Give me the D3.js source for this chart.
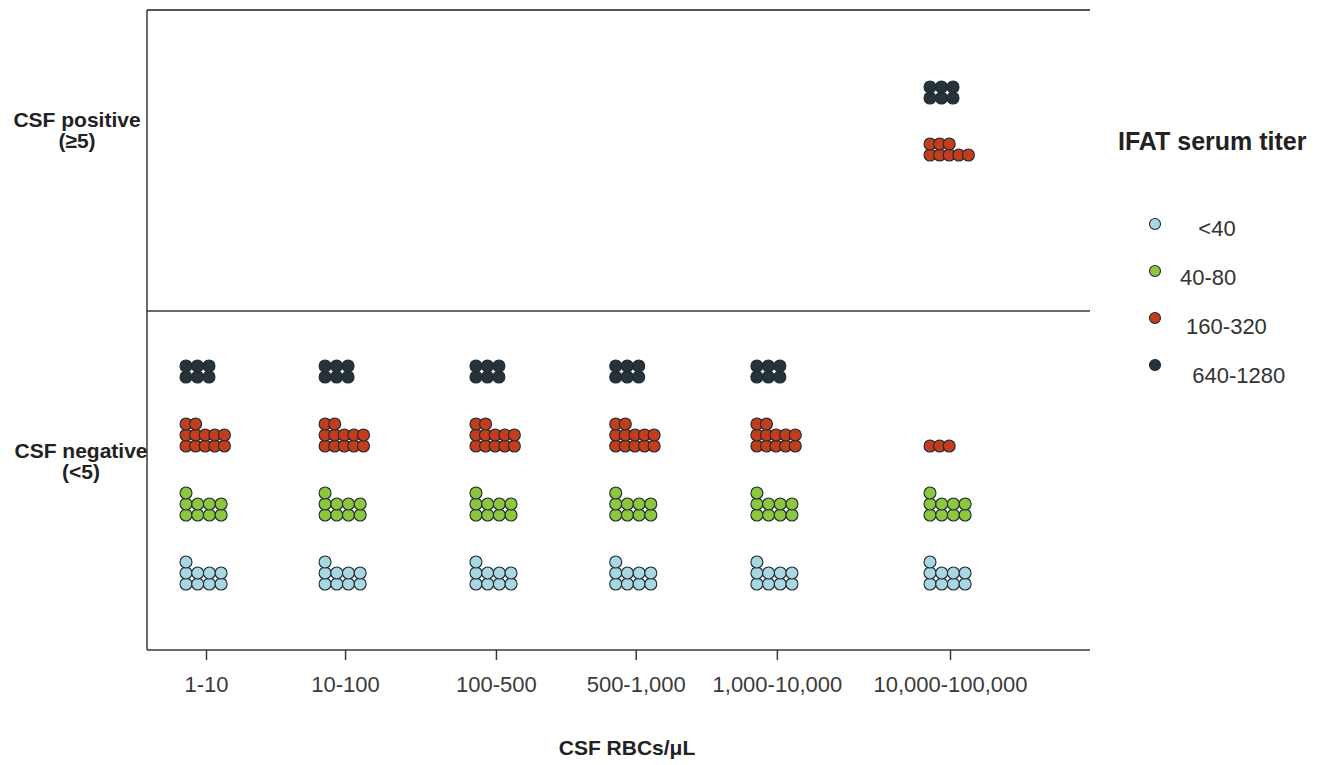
<!DOCTYPE html>
<html>
<head>
<meta charset="utf-8">
<script src="https://cdn.jsdelivr.net/npm/d3@7"></script>
<style>
  html, body { margin: 0; padding: 0; background: #fff; }
  svg { display: block; font-family: "Liberation Sans", Arial, sans-serif; }
</style>
</head>
<body>
<svg id="chart" width="1325" height="765"></svg>
<script>
// ---------- data ----------
const categories = ["1-10", "10-100", "100-500", "500-1,000", "1,000-10,000", "10,000-100,000"];
const titers = ["<40", "40-80", "160-320", "640-1280"];
const legendLabels = ["   <40", "40-80", " 160-320", "  640-1280"];
const statusLabels = [["CSF positive", "(\u22655)"], ["CSF negative", "(<5)"]];
const xTitle = "CSF RBCs/\u03bcL";
const legendTitle = "IFAT serum titer";

// counts of dogs per RBC category, CSF negative
const negLt40   = [9, 9, 9, 9, 9, 9];
const neg40_80  = [9, 9, 9, 9, 9, 9];
const neg160_320 = [12, 12, 12, 12, 12, 3];
const neg640_1280 = [6, 6, 6, 6, 6, 0];
// counts of dogs per RBC category, CSF positive
const posLt40   = [0, 0, 0, 0, 0, 0];
const pos40_80  = [0, 0, 0, 0, 0, 0];
const pos160_320 = [0, 0, 0, 0, 0, 8];
const pos640_1280 = [0, 0, 0, 0, 0, 6];

// ---------- layout / style ----------
const colors = ["#a9d6e3", "#8dc63f", "#c23d1d", "#27323a"];
const rowWidth = [4, 4, 5, 3];            // dots per row for each titer group
const colStep = [11.7, 11.7, 9.6, 11.5];  // horizontal dot spacing per titer group
const frame = { left: 147, right: 1090, top: 10, mid: 311, bottom: 650 };
const xSlots = [0, 1, 2.085, 3.09, 4.105, 5.35];
const dotR = 6, rowStep = 11;

const svg = d3.select("#chart");

const xSlot = d3.scaleLinear().domain([0, 5.35]).range([206, 950]);
const x = d3.scaleOrdinal().domain(categories).range(xSlots.map(s => xSlot(s)));

const yNeg = d3.scalePoint().domain(titers).range([frame.bottom - 66, frame.mid + 66]);
const yPos = d3.scalePoint().domain(titers).range([frame.mid - 42, frame.top + 88]);

const color = d3.scaleOrdinal().domain(titers).range(colors);

// ---------- frame ----------
const g = svg.append("g");
const lineColor = "#3a3a3a";
[frame.top, frame.mid, frame.bottom].forEach((yy, i) => {
  g.append("line")
    .attr("x1", frame.left).attr("x2", frame.right)
    .attr("y1", yy).attr("y2", yy)
    .attr("stroke", i === 0 ? "#555" : lineColor)
    .attr("stroke-width", i === 0 ? 2 : 1.5);
});
g.append("line")
  .attr("x1", frame.left).attr("x2", frame.left)
  .attr("y1", frame.top).attr("y2", frame.bottom)
  .attr("stroke", lineColor).attr("stroke-width", 1.5);

// ---------- x axis ----------
const xAxis = d3.axisBottom(x).tickSize(10).tickPadding(16);
const ax = svg.append("g").attr("transform", `translate(0,${frame.bottom})`).call(xAxis);
ax.select(".domain").remove();
ax.selectAll(".tick line").attr("stroke", lineColor).attr("stroke-width", 1.5);
ax.selectAll(".tick text")
  .attr("font-size", 22).attr("fill", "#3a3a3a")
  .attr("font-family", "'Liberation Sans', Arial, sans-serif");

svg.append("text")
  .attr("x", 627).attr("y", 755)
  .attr("text-anchor", "middle")
  .attr("font-size", 21).attr("font-weight", "bold").attr("fill", "#222")
  .text(xTitle);

// ---------- y labels ----------
const statusLabelPos = [
  { x: 77, y: frame.top + 0.388 * (frame.mid - frame.top) },
  { x: 81, y: frame.mid + 0.433 * (frame.bottom - frame.mid) }
];
statusLabels.forEach((lines, i) => {
  const t = svg.append("text")
    .attr("x", statusLabelPos[i].x).attr("y", statusLabelPos[i].y)
    .attr("text-anchor", "middle")
    .attr("font-size", 21).attr("font-weight", "bold").attr("fill", "#222");
  lines.forEach((ln, j) => {
    t.append("tspan").attr("x", statusLabelPos[i].x).attr("dy", j === 0 ? 0 : 21).text(ln);
  });
});

// ---------- dots ----------
const negCounts = [negLt40, neg40_80, neg160_320, neg640_1280];
const posCounts = [posLt40, pos40_80, pos160_320, pos640_1280];

function buildDots(counts, yScale) {
  const out = [];
  titers.forEach((t, ti) => {
    categories.forEach((c, ci) => {
      const n = counts[ti][ci];
      for (let k = 0; k < n; k++) {
        const row = Math.floor(k / rowWidth[ti]);
        const col = k % rowWidth[ti];
        out.push({ titer: t, ti, cat: c, row, col, base: yScale(t) });
      }
    });
  });
  return out;
}
const dots = buildDots(negCounts, yNeg).concat(buildDots(posCounts, yPos));

svg.append("g").selectAll("circle")
  .data(dots)
  .join("circle")
  .attr("cx", d => x(d.cat) - 20 + d.col * colStep[d.ti])
  .attr("cy", d => d.base - d.row * rowStep)
  .attr("r", dotR)
  .attr("fill", d => color(d.titer))
  .attr("stroke", "#1d2b2e")
  .attr("stroke-width", 1.1);

// ---------- legend ----------
const lg = svg.append("g");
lg.append("text")
  .attr("x", 1118).attr("y", 150)
  .attr("font-size", 25).attr("font-weight", "bold").attr("fill", "#222")
  .text(legendTitle);

const legY = d3.scalePoint().domain(titers).range([224, 365]);
const legTextY = d3.scalePoint().domain(titers).range([236, 383]);
titers.forEach((t, i) => {
  lg.append("circle")
    .attr("cx", 1155).attr("cy", legY(t)).attr("r", 5.5)
    .attr("fill", color(t)).attr("stroke", "#1d2b2e").attr("stroke-width", 1.1);
  lg.append("text")
    .attr("x", 1180).attr("y", legTextY(t))
    .attr("font-size", 22).attr("fill", "#333")
    .style("white-space", "pre")
    .text(legendLabels[i]);
});
</script>
</body>
</html>
